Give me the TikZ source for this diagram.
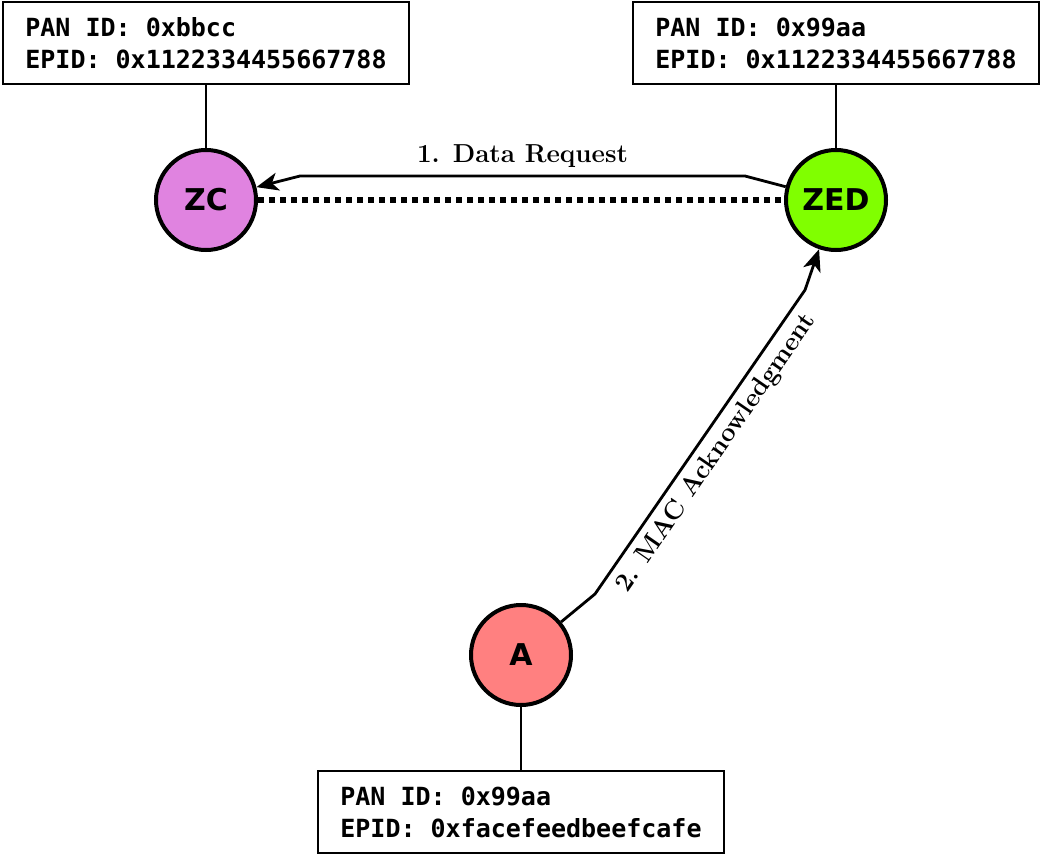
\documentclass[tikz,border=0pt]{standalone}
\usepackage{fontspec}
\usepackage{tikz}
\usetikzlibrary{shapes, arrows.meta}
\newfontfamily\boxfont{DejaVu Sans Mono}
\newfontfamily\devfont{DejaVu Sans}
\definecolor{coord}{RGB}{224, 131, 224}
\definecolor{enddev}{RGB}{128, 255, 0}
\definecolor{attack}{RGB}{255, 128, 128}
\newcommand*{\dsize}{50pt}

\begin{document}
\begin{tikzpicture}[
   x=0.5pt, y=-0.5pt,
   devcirc/.style={circle, draw=black, line width=2, text=black,
                   inner sep=1, minimum size=\dsize,
                   font={\devfont\bfseries\fontsize{15}{18}\selectfont}},
   idrec/.style={rectangle, draw=black, fill=white, line width=1, text=black,
                 align=left, inner xsep=11pt, minimum height=41pt,
                 font={\boxfont\bfseries\fontsize{12.5}{16}\selectfont}},
   msglabel/.style={text=black, font={\bfseries\fontsize{13}{15}\selectfont}},
   msgline/.style={-{Stealth[length=11pt, width=9pt, inset=3pt]}, line width=1.4}
  ]

  \useasboundingbox (0, 0) rectangle (1043, 856);

  % Devices
  \node (ZC) at (206, 200) [devcirc, fill=coord] {ZC};
  \node (ZED) at (836, 200) [devcirc, fill=enddev] {ZED};
  \node (A) at (521, 655) [devcirc, fill=attack] {A};

  % Network identifiers
  \node (ZCid) at (206, 43) [idrec] {PAN ID: 0xbbcc\\EPID: 0x1122334455667788};
  \node (ZEDid) at (836, 43) [idrec] {PAN ID: 0x99aa\\EPID: 0x1122334455667788};
  \node (Aid) at (521, 812) [idrec] {PAN ID: 0x99aa\\EPID: 0xfacefeedbeefcafe};

  % Bends
  \coordinate (reqR) at (745, 176);
  \coordinate (reqL) at (300, 176);
  \coordinate (ackA) at (595, 594);
  \coordinate (ackB) at (805, 290);

  \foreach \B/\E in {ZCid/ZC, ZEDid/ZED, Aid/A} {
    \draw[line width=1] (\B) -- (\E);
  }

  \draw[line width=3, dash pattern=on 3pt off 2.5pt] (ZC) -- (ZED);

  \draw[msgline] (ZED) -- (reqR)
    -- node[above, msglabel] {1. Data Request} (reqL) -- (ZC);
  \draw[msgline] (A) -- (ackA)
    -- node[below, sloped, msglabel] {2. MAC Acknowledgment} (ackB) -- (ZED);

\end{tikzpicture}
\end{document}
